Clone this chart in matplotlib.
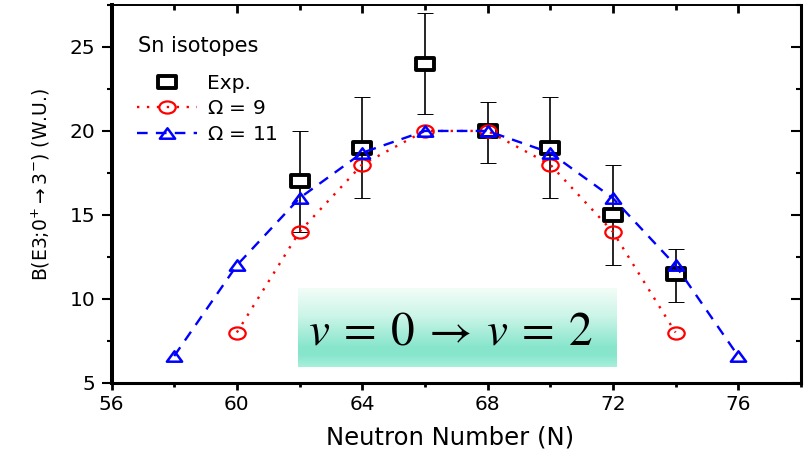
import numpy as np
import matplotlib
matplotlib.use("Agg")
import matplotlib.pyplot as plt
from matplotlib.lines import Line2D
from matplotlib.path import Path
from matplotlib.transforms import Affine2D
from matplotlib.ticker import MultipleLocator

plt.rcParams['font.family'] = ['DejaVu Sans']
plt.rcParams['mathtext.fontset'] = 'dejavusans'

# Experimental B(E3) values with asymmetric uncertainties
n_exp = [62, 64, 66, 68, 70, 72, 74]
b_exp = [17.0, 19.0, 24.0, 20.0, 19.0, 15.0, 11.5]
b_exp_lo = [14.0, 16.0, 21.0, 18.1, 16.0, 12.0, 9.8]
b_exp_hi = [20.0, 22.0, 27.0, 21.7, 22.0, 18.0, 13.0]

# Seniority-model results
n_om9 = [60, 62, 64, 66, 68, 70, 72, 74]
b_om9 = [8.0, 14.0, 18.0, 20.0, 20.0, 18.0, 14.0, 8.0]
n_om11 = [58, 60, 62, 64, 66, 68, 70, 72, 74, 76]
b_om11 = [6.6, 12.0, 16.0, 18.7, 20.0, 20.0, 18.7, 16.0, 12.0, 6.6]

# Wide (flattened) marker shapes
sq_path = Path([(-1, -0.64), (1, -0.64), (1, 0.64), (-1, 0.64), (-1, -0.64)],
               [Path.MOVETO, Path.LINETO, Path.LINETO, Path.LINETO, Path.CLOSEPOLY])
circ_path = Path.unit_circle().transformed(Affine2D().scale(1.0, 0.74))
tri_path = Path([(0, 0.68), (-1, -0.68), (1, -0.68), (0, 0.68)],
                [Path.MOVETO, Path.LINETO, Path.LINETO, Path.CLOSEPOLY])

sq_kw = dict(marker=sq_path, ms=12.5, mfc='white', mec='black', mew=2.8)
om9_kw = dict(ls=(0, (1, 3.2)), color='red', lw=1.7, marker=circ_path, ms=11.8,
              mfc='none', mec='red', mew=1.6)
om11_kw = dict(ls=(0, (4.5, 3.5)), color='blue', lw=1.7, marker=tri_path, ms=11,
               mfc='none', mec='blue', mew=1.8)

fig = plt.figure(figsize=(8.11, 4.51), dpi=100)
ax = fig.add_axes([0.1375, 0.151, 0.850, 0.838])

yerr = [np.array(b_exp) - np.array(b_exp_lo), np.array(b_exp_hi) - np.array(b_exp)]
ax.errorbar(n_exp, b_exp, yerr=yerr, fmt='none', ecolor='black', elinewidth=1.2,
            capsize=6, capthick=0.7, zorder=2)
ax.plot(n_exp, b_exp, ls='none', zorder=2.5, **sq_kw)
ax.plot(n_om9, b_om9, zorder=3, **om9_kw)
ax.plot(n_om11, b_om11, zorder=4, **om11_kw)

ax.set_xlim(56, 78)
ax.set_ylim(5, 27.5)
ax.xaxis.set_major_locator(MultipleLocator(4))
ax.xaxis.set_minor_locator(MultipleLocator(2))
ax.yaxis.set_major_locator(MultipleLocator(5))
ax.yaxis.set_minor_locator(MultipleLocator(2.5))

ax.spines['left'].set_linewidth(2.9)
ax.spines['bottom'].set_linewidth(2.2)
ax.spines['right'].set_linewidth(2.2)
ax.spines['top'].set_linewidth(1.4)

ax.tick_params(axis='y', which='both', direction='out', left=True, right=False,
               width=1.5, labelsize=14.5, pad=4.3)
ax.tick_params(axis='y', which='major', length=7.2)
ax.tick_params(axis='y', which='minor', length=3.8)
ax.tick_params(axis='x', which='both', direction='out', bottom=True, top=False,
               width=2.0, labelsize=14.5, pad=4)
ax.tick_params(axis='x', which='major', length=5)
ax.tick_params(axis='x', which='minor', length=3)

# Inward ticks on the right and top edges
sec_y = ax.secondary_yaxis('right')
sec_y.yaxis.set_major_locator(MultipleLocator(5))
sec_y.yaxis.set_minor_locator(MultipleLocator(2.5))
sec_y.tick_params(which='both', direction='in', labelright=False, width=1.5)
sec_y.tick_params(which='major', length=7.2)
sec_y.tick_params(which='minor', length=3.8)
sec_y.spines['right'].set_visible(False)

sec_x = ax.secondary_xaxis('top')
sec_x.xaxis.set_major_locator(MultipleLocator(4))
sec_x.xaxis.set_minor_locator(MultipleLocator(2))
sec_x.tick_params(which='both', direction='in', labeltop=False, width=2.0)
sec_x.tick_params(which='major', length=5.5)
sec_x.tick_params(which='minor', length=3.5)
sec_x.spines['top'].set_visible(False)

ax.set_xlabel('Neutron Number (N)', fontsize=17.5)
ax.xaxis.set_label_coords(0.491, -0.145, transform=ax.transAxes)
ax.xaxis.label.set_va('center')
ax.set_ylabel(r'B(E3;0$^{+}$$\rightarrow$3$^{-}$) (W.U.)', fontsize=13.5)
ax.yaxis.set_label_coords(-0.086, 0.526)

handles = [
    Line2D([], [], ls='none', **sq_kw),
    Line2D([], [], **om9_kw),
    Line2D([], [], **om11_kw),
]
ax.legend(handles, ['Exp.', r'$\Omega$ = 9', r'$\Omega$ = 11'],
          loc='upper left', bbox_to_anchor=(137 / 811, 1 - 74 / 451),
          bbox_transform=fig.transFigure, frameon=False, fontsize=14.5,
          handlelength=3.0, labelspacing=0.32, handletextpad=0.5,
          borderpad=0, borderaxespad=0)
ax.text(138 / 811, 1 - 46 / 451, 'Sn isotopes', transform=fig.transFigure,
        fontsize=15, va='center', ha='left')

# Gradient panel with the seniority annotation
bx0, bx1, by0, by1 = 0.2705, 0.733, 0.0423, 0.2487
stops = np.array([[0.95, 0.99, 0.97],
                  [0.80, 0.96, 0.91],
                  [0.53, 0.90, 0.80],
                  [0.53, 0.90, 0.80],
                  [0.66, 0.94, 0.86]])
pos = np.array([0.0, 0.35, 0.75, 0.85, 1.0])
t = np.linspace(0, 1, 128)
grad = np.stack([np.interp(t, pos, stops[:, k]) for k in range(3)], axis=-1)
ax.imshow(grad[:, None, :], extent=(bx0, bx1, by0, by1), transform=ax.transAxes,
          aspect='auto', origin='upper', zorder=1, interpolation='bilinear')
ax.text(0.491, 0.135, r'$v\:=\:0\:\rightarrow\:v\:=\:2$', transform=ax.transAxes,
        ha='center', va='center', fontsize=34, zorder=2, math_fontfamily='stix')

fig.savefig('out.png', dpi=100)
